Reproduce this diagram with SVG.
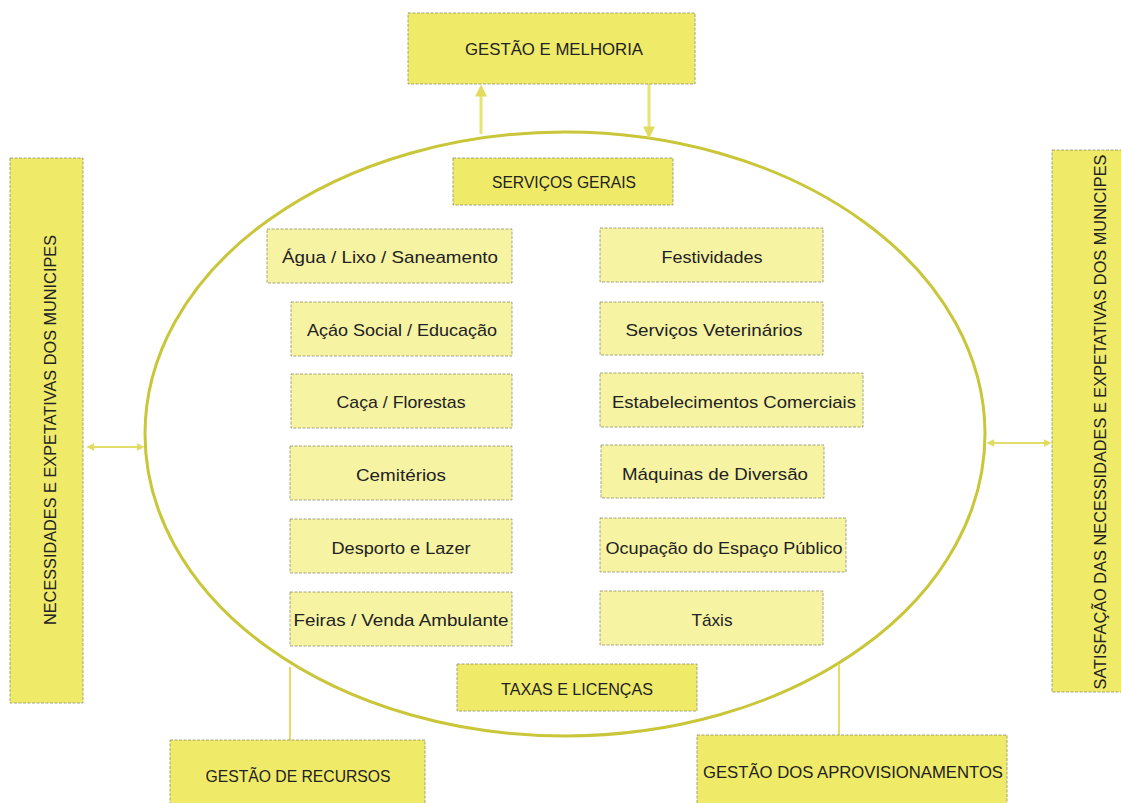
<svg xmlns="http://www.w3.org/2000/svg" width="1121" height="803" viewBox="0 0 1121 803">
<style>
  .strong { fill: #efea68; stroke: #8f8d70; stroke-width: 0.8; stroke-dasharray: 3 1.5; }
  .light { fill: #f6f3a2; stroke: #8f8d70; stroke-width: 0.8; stroke-dasharray: 3 1.5; }
  .t { font-family: "Liberation Sans", Arial, sans-serif; font-size: 17px; fill: #222222; text-anchor: middle; dominant-baseline: central; }
  .conn { stroke: #e9e472; stroke-width: 3; fill: none; }
  .thin { stroke: #e2dc6a; stroke-width: 2; fill: none; }
</style>
<defs>
  <marker id="ah" viewBox="0 0 10 10" refX="8" refY="5" markerWidth="4" markerHeight="4" orient="auto-start-reverse">
    <path d="M0,0 L10,5 L0,10 z" fill="#e2dc5e"/>
  </marker>
</defs>
<rect width="1121" height="803" fill="#ffffff"/>

<g id="connectors">
  <ellipse cx="565" cy="434" rx="420" ry="302" fill="none" stroke="#c9c63a" stroke-width="3"/>
  <line class="conn" x1="481" y1="134" x2="481" y2="87" marker-end="url(#ah)"/>
  <line class="conn" x1="649" y1="84" x2="649" y2="136" marker-end="url(#ah)"/>
  <line class="thin" x1="88" y1="447" x2="143" y2="447" marker-start="url(#ah)" marker-end="url(#ah)"/>
  <line class="thin" x1="988" y1="443" x2="1050" y2="443" marker-start="url(#ah)" marker-end="url(#ah)"/>
  <line class="thin" x1="290" y1="667" x2="290" y2="740"/>
  <line class="thin" x1="839" y1="664" x2="839" y2="735"/>
</g>

<g id="gestao-melhoria">
  <rect class="strong" x="408" y="13" width="287" height="71"/>
  <text class="t" x="554" y="49" textLength="178" lengthAdjust="spacingAndGlyphs">GESTÃO E MELHORIA</text>
</g>
<g id="servicos-gerais">
  <rect class="strong" x="453" y="158" width="220" height="47"/>
  <text class="t" x="564" y="182" textLength="144" lengthAdjust="spacingAndGlyphs">SERVIÇOS GERAIS</text>
</g>
<g id="taxas-licencas">
  <rect class="strong" x="457" y="664" width="240" height="47"/>
  <text class="t" x="577" y="689" textLength="152" lengthAdjust="spacingAndGlyphs">TAXAS E LICENÇAS</text>
</g>
<g id="necessidades">
  <rect class="strong" x="10" y="158" width="73" height="545"/>
  <text class="t" transform="translate(50,430) rotate(-90)" x="0" y="0" textLength="390" lengthAdjust="spacingAndGlyphs">NECESSIDADES E EXPETATIVAS DOS MUNICIPES</text>
</g>
<g id="satisfacao">
  <rect class="strong" x="1052" y="150" width="75" height="542"/>
  <text class="t" transform="translate(1100,422) rotate(-90)" x="0" y="0" textLength="535" lengthAdjust="spacingAndGlyphs">SATISFAÇÃO DAS NECESSIDADES E EXPETATIVAS DOS MUNICIPES</text>
</g>
<g id="gestao-recursos">
  <rect class="strong" x="170" y="740" width="255" height="70"/>
  <text class="t" x="298" y="776" textLength="185" lengthAdjust="spacingAndGlyphs">GESTÃO DE RECURSOS</text>
</g>
<g id="gestao-aprovisionamentos">
  <rect class="strong" x="697" y="735" width="310" height="75"/>
  <text class="t" x="853" y="772" textLength="300" lengthAdjust="spacingAndGlyphs">GESTÃO DOS APROVISIONAMENTOS</text>
</g>

<g id="agua">
  <rect class="light" x="267" y="229" width="245" height="54"/>
  <text class="t" x="390" y="257" textLength="216" lengthAdjust="spacingAndGlyphs">Água / Lixo / Saneamento</text>
</g>
<g id="acao-social">
  <rect class="light" x="291" y="302" width="221" height="54"/>
  <text class="t" x="402" y="330" textLength="190" lengthAdjust="spacingAndGlyphs">Açáo Social / Educação</text>
</g>
<g id="caca">
  <rect class="light" x="291" y="374" width="221" height="54"/>
  <text class="t" x="401" y="402" textLength="129" lengthAdjust="spacingAndGlyphs">Caça / Florestas</text>
</g>
<g id="cemiterios">
  <rect class="light" x="290" y="446" width="222" height="54"/>
  <text class="t" x="401" y="475" textLength="90" lengthAdjust="spacingAndGlyphs">Cemitérios</text>
</g>
<g id="desporto">
  <rect class="light" x="290" y="519" width="222" height="54"/>
  <text class="t" x="401" y="548" textLength="139" lengthAdjust="spacingAndGlyphs">Desporto e Lazer</text>
</g>
<g id="feiras">
  <rect class="light" x="290" y="592" width="222" height="54"/>
  <text class="t" x="401" y="620" textLength="215" lengthAdjust="spacingAndGlyphs">Feiras / Venda Ambulante</text>
</g>

<g id="festividades">
  <rect class="light" x="600" y="228" width="223" height="54"/>
  <text class="t" x="712" y="257" textLength="101" lengthAdjust="spacingAndGlyphs">Festividades</text>
</g>
<g id="veterinarios">
  <rect class="light" x="600" y="302" width="223" height="53"/>
  <text class="t" x="714" y="330" textLength="177" lengthAdjust="spacingAndGlyphs">Serviços Veterinários</text>
</g>
<g id="estabelecimentos">
  <rect class="light" x="600" y="373" width="263" height="54"/>
  <text class="t" x="734" y="402" textLength="244" lengthAdjust="spacingAndGlyphs">Estabelecimentos Comerciais</text>
</g>
<g id="maquinas">
  <rect class="light" x="601" y="445" width="223" height="53"/>
  <text class="t" x="715" y="474" textLength="186" lengthAdjust="spacingAndGlyphs">Máquinas de Diversão</text>
</g>
<g id="ocupacao">
  <rect class="light" x="600" y="518" width="246" height="54"/>
  <text class="t" x="724" y="548" textLength="237" lengthAdjust="spacingAndGlyphs">Ocupação do Espaço Público</text>
</g>
<g id="taxis">
  <rect class="light" x="600" y="591" width="223" height="54"/>
  <text class="t" x="712" y="620" textLength="41" lengthAdjust="spacingAndGlyphs">Táxis</text>
</g>
</svg>
